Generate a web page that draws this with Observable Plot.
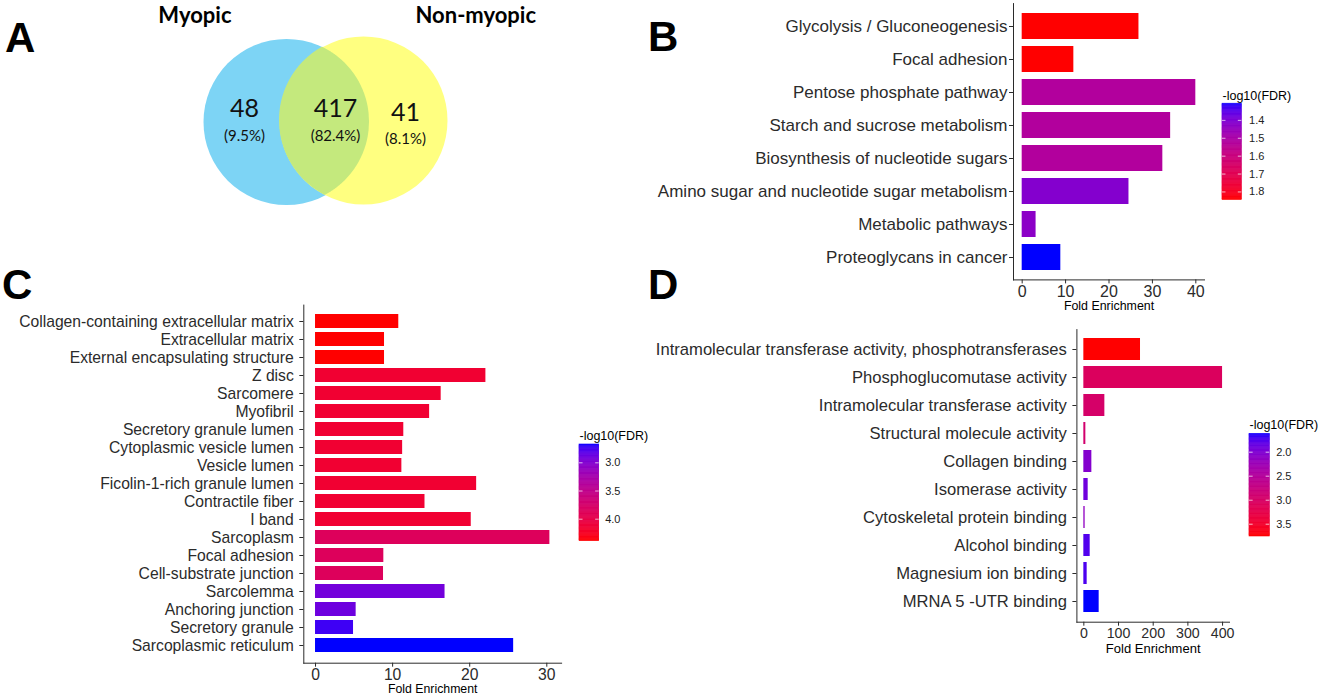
<!DOCTYPE html>
<html><head><meta charset="utf-8">
<script src="https://cdn.jsdelivr.net/npm/d3@7"></script>
<script src="https://cdn.jsdelivr.net/npm/@observablehq/plot@0.6"></script>
<style>
body{margin:0;background:#fff;}
#fig{position:relative;width:1325px;height:700px;overflow:hidden;background:#fff;}
.pane{position:absolute;}
.pane svg{display:block;max-width:none;}
.letter{position:absolute;font:bold 42px/42px "Liberation Sans",Arial,sans-serif;color:#000;z-index:5;}
#paneB g[aria-label="x-axis tick label"]{font-size:16px;}
#paneD g[aria-label="x-axis tick label"]{font-size:14.2px;}
</style></head><body>
<div id="fig"></div>
<script>
// ---------- DATA ----------
// Panel A: Venn
const vennSets = ["Myopic", "Non-myopic"];
const vennCounts = [48, 417, 41];
const vennPercents = ["(9.5%)", "(82.4%)", "(8.1%)"];

// Panel B: KEGG
const bLabels = ["Glycolysis / Gluconeogenesis", "Focal adhesion", "Pentose phosphate pathway",
  "Starch and sucrose metabolism", "Biosynthesis of nucleotide sugars",
  "Amino sugar and nucleotide sugar metabolism", "Metabolic pathways", "Proteoglycans in cancer"];
const bFold = [26.9, 11.9, 40.0, 34.2, 32.4, 24.6, 3.2, 8.9];
const bFdr = [1.845, 1.845, 1.528, 1.528, 1.528, 1.415, 1.431, 1.307];
const bTicks = [0, 10, 20, 30, 40];
const bLegendTicks = [1.4, 1.5, 1.6, 1.7, 1.8];

// Panel C: cellular component
const cLabels = ["Collagen-containing extracellular matrix", "Extracellular matrix", "External encapsulating structure",
  "Z disc", "Sarcomere", "Myofibril", "Secretory granule lumen", "Cytoplasmic vesicle lumen", "Vesicle lumen",
  "Ficolin-1-rich granule lumen", "Contractile fiber", "I band", "Sarcoplasm", "Focal adhesion",
  "Cell-substrate junction", "Sarcolemma", "Anchoring junction", "Secretory granule", "Sarcoplasmic reticulum"];
const cFold = [10.8, 8.95, 8.95, 22.1, 16.3, 14.8, 11.45, 11.3, 11.2, 20.9, 14.2, 20.2, 30.4, 8.86, 8.82, 16.8, 5.27, 4.93, 25.7];
const cFdr = [4.39, 4.39, 4.39, 4.167, 4.167, 4.167, 4.167, 4.167, 4.167, 4.167, 4.167, 4.167, 3.876, 3.876, 3.876, 2.93, 2.898, 2.744, 2.675];
const cTicks = [0, 10, 20, 30];
const cLegendTicks = [3.0, 3.5, 4.0];

// Panel D: molecular function
const dLabels = ["Intramolecular transferase activity, phosphotransferases", "Phosphoglucomutase activity",
  "Intramolecular transferase activity", "Structural molecule activity", "Collagen binding", "Isomerase activity",
  "Cytoskeletal protein binding", "Alcohol binding", "Magnesium ion binding", "MRNA 5 -UTR binding"];
const dFold = [163.4, 400, 60.6, 5.8, 23.1, 12.5, 3.8, 18.3, 9.6, 44.2];
const dFdr = [3.756, 3.093, 2.986, 2.943, 2.045, 1.916, 2.152, 1.767, 1.745, 1.617];
const dTicks = [0, 100, 200, 300, 400];
const dLegendTicks = [2.0, 2.5, 3.0, 3.5];

// ---------- LAYOUT ----------
const fig = document.getElementById("fig");
const LABEL_FONT = '"Liberation Sans", Arial, sans-serif';
function place(node, left, top, id) {
  const d = document.createElement("div");
  d.className = "pane";
  if (id) d.id = id;
  d.style.left = left + "px";
  d.style.top = top + "px";
  d.appendChild(node);
  fig.appendChild(d);
}
function letter(t, left, top) {
  const d = document.createElement("div");
  d.className = "letter";
  d.textContent = t;
  d.style.left = left + "px";
  d.style.top = top + "px";
  fig.appendChild(d);
}

// ---------- PANEL A: Venn ----------
const venn = {
  circles: [{cx: 286, cy: 121.5, r: 83, fill: "#7dd4f5"}, {cx: 363, cy: 120, r: 84, fill: "#ffff80"}],
  overlap: "#c4e97d",
  labelX: [244, 335, 405], countY: [108, 108, 112], pctY: [136, 136, 139],
  titleX: [231, 415], titleY: 15
};
{
  const [c1, c2] = venn.circles;
  const xa = c2.cx - c2.r, xb = c1.cx + c1.r;
  const lens = d3.range(0, 201).map(i => {
    const x = xa + (xb - xa) * i / 200;
    const h1 = Math.sqrt(Math.max(0, c1.r * c1.r - (x - c1.cx) ** 2));
    const h2 = Math.sqrt(Math.max(0, c2.r * c2.r - (x - c2.cx) ** 2));
    const top = Math.max(c1.cy - h1, c2.cy - h2);
    const bottom = Math.min(c1.cy + h1, c2.cy + h2);
    return {x, top, bottom: Math.max(top, bottom)};
  });
  const regions = vennCounts.map((n, i) => ({n: String(n), pct: vennPercents[i], x: venn.labelX[i], cy: venn.countY[i], py: venn.pctY[i]}));
  const titles = vennSets.map((s, i) => ({s, x: venn.titleX[i]}));
  const p = Plot.plot({
    width: 560, height: 240, margin: 0,
    x: {domain: [0, 560], axis: null},
    y: {domain: [0, 240], reverse: true, axis: null},
    style: {background: "transparent", fontFamily: "Lato, 'Open Sans', sans-serif"},
    marks: [
      Plot.dot([c1], {x: "cx", y: "cy", r: c1.r, fill: c1.fill, stroke: null}),
      Plot.dot([c2], {x: "cx", y: "cy", r: c2.r, fill: c2.fill, stroke: null}),
      Plot.areaY(lens, {x: "x", y1: "top", y2: "bottom", fill: venn.overlap, curve: "linear"}),
      Plot.text(regions, {x: "x", y: "cy", text: "n", fontSize: 25, fill: "#111"}),
      Plot.text(regions, {x: "x", y: "py", text: "pct", fontSize: 15, fill: "#111"}),
      Plot.text(titles.slice(0, 1), {x: "x", y: venn.titleY, text: "s", textAnchor: "end", fontSize: 22, fontWeight: "bold", fill: "#000"}),
      Plot.text(titles.slice(1), {x: "x", y: venn.titleY, text: "s", textAnchor: "start", fontSize: 22, fontWeight: "bold", fill: "#000"})
    ]
  });
  place(p, 0, 0, "paneA");
}

// ---------- BAR PANELS ----------
function barPanel({id, labels, fold, fdr, ticks, frame, svgLeft, svgTop, width, height, fontSize, tickPadding, titleFont, titleDy}) {
  const rows = labels.map((label, i) => ({label, fold: fold[i], fdr: fdr[i]}));
  const max = d3.max(fold);
  const p = Plot.plot({
    width, height,
    marginLeft: frame.left - svgLeft,
    marginRight: svgLeft + width - frame.right,
    marginTop: frame.top - svgTop,
    marginBottom: svgTop + height - frame.bottom,
    style: {fontFamily: LABEL_FONT, fontSize: fontSize + "px", background: "transparent", color: "#2b2b2b", overflow: "visible"},
    x: {domain: [-0.05 * max, 1.05 * max], ticks, line: true, tickSize: 4, tickPadding: 2, label: null},
    y: {domain: labels, padding: 0.2, line: true, tickSize: 4, tickPadding, label: null},
    color: {type: "linear", domain: d3.extent(fdr), range: ["blue", "red"], interpolate: "lab"},
    marks: [
      Plot.barX(rows, {x: "fold", y: "label", fill: "fdr"}),
      Plot.text(["Fold Enrichment"], {frameAnchor: "bottom", dy: titleDy, fontSize: titleFont, fill: "#000"})
    ]
  });
  place(p, svgLeft, svgTop, id);
}

function legend({fdr, ticks, barLeft, barRight, barTop, barBottom, labelX, titleY}) {
  const domain = d3.extent(fdr);
  const [lo, hi] = domain;
  const svgTop = titleY - 12;
  const width = 90;
  const barW = barRight - barLeft;
  const mt = barTop - svgTop;
  const height = mt + (barBottom - barTop) + 6;
  const N = 80;
  const slices = d3.range(N).map(i => ({v0: lo + (hi - lo) * i / N, v1: lo + (hi - lo) * (i + 1) / N, v: lo + (hi - lo) * (i + 0.5) / N}));
  const p = Plot.plot({
    width, height, marginLeft: 0, marginRight: width - barW, marginTop: mt, marginBottom: 6,
    style: {fontFamily: LABEL_FONT, fontSize: "11px", background: "transparent", color: "#222", overflow: "visible"},
    x: {domain: [0, 1], axis: null},
    y: {domain, reverse: true, ticks, tickFormat: ".1f", tickSize: 0, tickPadding: labelX - barRight, axis: "right", label: null},
    color: {type: "linear", domain, range: ["blue", "red"], interpolate: "lab"},
    marks: [
      Plot.rect(slices, {x1: 0, x2: 1, y1: "v0", y2: "v1", fill: "v", stroke: "v", strokeWidth: 0.6}),
      Plot.ruleY(ticks, {x1: 0, x2: 0.18, stroke: "white", strokeOpacity: 0.7}),
      Plot.ruleY(ticks, {x1: 0.82, x2: 1, stroke: "white", strokeOpacity: 0.7}),
      Plot.text(["-log10(FDR)"], {frameAnchor: "top-left", dy: titleY - barTop, textAnchor: "start", fontSize: 12.5, fill: "#000"})
    ]
  });
  place(p, barLeft, svgTop);
}

// Panel B
barPanel({id: "paneB", labels: bLabels, fold: bFold, fdr: bFdr, ticks: bTicks,
  frame: {left: 1013, right: 1204, top: 3.1, bottom: 279.4},
  svgLeft: 630, svgTop: 0, width: 584, height: 320, fontSize: 17, tickPadding: 2, titleFont: 12.4, titleDy: 30.5});
legend({fdr: bFdr, ticks: bLegendTicks, barLeft: 1221.7, barRight: 1241, barTop: 102.7, barBottom: 199, labelX: 1248.3, titleY: 90.5});

// Panel C
barPanel({id: "paneC", labels: cLabels, fold: cFold, fdr: cFdr, ticks: cTicks,
  frame: {left: 303.3, right: 561.1, top: 304.6, bottom: 662.7},
  svgLeft: 0, svgTop: 270, width: 575, height: 430, fontSize: 15.7, tickPadding: 6, titleFont: 12.3, titleDy: 29.3});
legend({fdr: cFdr, ticks: cLegendTicks, barLeft: 579.3, barRight: 599, barTop: 444, barBottom: 540.7, labelX: 605, titleY: 431});

// Panel D
barPanel({id: "paneD", labels: dLabels, fold: dFold, fdr: dFdr, ticks: dTicks,
  frame: {left: 1076.4, right: 1229, top: 329.1, bottom: 621.7},
  svgLeft: 600, svgTop: 300, width: 639, height: 360, fontSize: 16.6, tickPadding: 6, titleFont: 13, titleDy: 30.3});
legend({fdr: dFdr, ticks: dLegendTicks, barLeft: 1249, barRight: 1269.3, barTop: 433.3, barBottom: 536, labelX: 1275.7, titleY: 420});

// Panel letters
letter("A", 5, 17);
letter("B", 648, 16);
letter("C", 2, 264);
letter("D", 648, 264);
</script>
</body></html>
